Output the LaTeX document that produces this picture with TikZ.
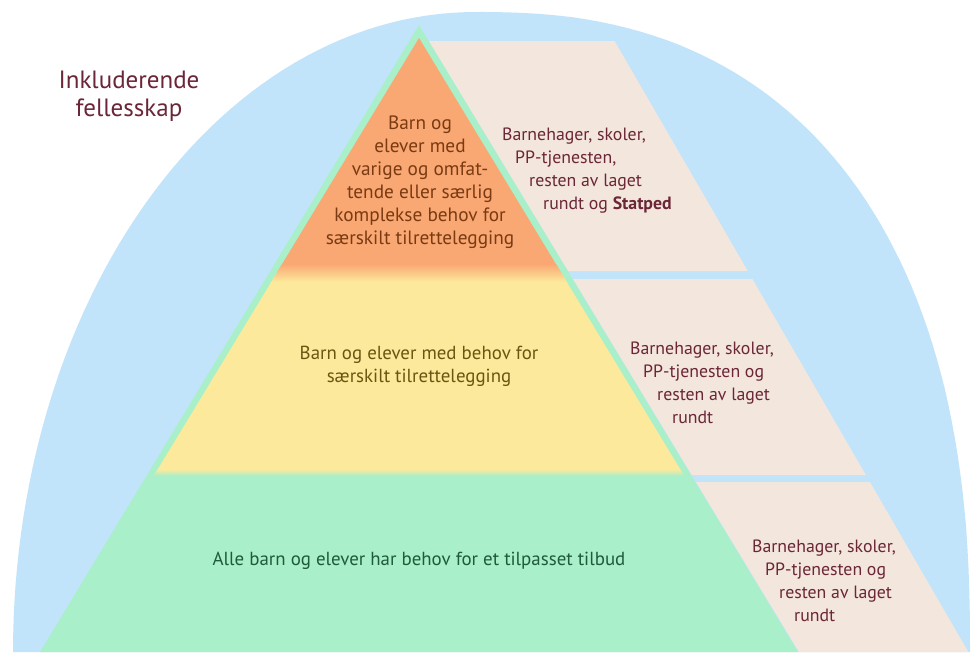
\documentclass[tikz,border=0pt]{standalone}
\usepackage{fontspec}
\setmainfont{PT Sans}
\usepackage{xcolor}
\definecolor{archblue}{HTML}{C1E4FA}
\definecolor{layergreen}{HTML}{A9EFC9}
\definecolor{layeryellow}{HTML}{FDE99B}
\definecolor{layerorange}{HTML}{F9A873}
\definecolor{svcbeige}{HTML}{F3E6DC}
\definecolor{maroon}{HTML}{6B2638}
\definecolor{brownorange}{HTML}{7A3A12}
\definecolor{olivetext}{HTML}{6A5612}
\definecolor{greentext}{HTML}{1F5A3C}

\begin{document}
\begin{tikzpicture}[x=1pt, y=-1pt,
  txt/.style={inner sep=0pt, align=center, font=\fontsize{18.9}{23}\selectfont},
  svc/.style={inner sep=0pt, align=left, anchor=west, text=maroon, font=\fontsize{17.8}{23}\selectfont}]
\fill[white] (0,0) rectangle (973,657);
\useasboundingbox (0,0) rectangle (973,657);
\fill[archblue] (13,652) -- plot[domain=180:90, samples=60] ({475+462*cos(\x)},{652-640*sin(\x)})
  -- plot[domain=89.5:0.5, samples=60] ({475+495*pow(cos(\x),0.8333)},{652-640*pow(sin(\x),0.8333)})
  -- (970,652) -- cycle;
\foreach \ya/\yb in {41/271, 279/475, 482/652} {
 \fill[svcbeige] ({419+0.606*(\ya-25)},\ya) -- ({614+0.579*(\ya-40)},\ya)
   -- ({614+0.579*(\yb-40)},\yb) -- ({419+0.606*(\yb-25)},\yb) -- cycle;
}
\fill[layergreen] (419,25) -- (40,652) -- (798,652) -- cycle;
\fill[layerorange] (419,38) -- (276.7,273) -- (561.3,273) -- cycle;
\fill[layeryellow] (276.7,273) -- (154.3,475) -- (683.7,475) -- (561.3,273) -- cycle;
\begin{scope}
 \clip (419,38) -- (154.3,475) -- (683.7,475) -- cycle;
 \shade[top color=layerorange, bottom color=layeryellow] (150,264) rectangle (690,282);
 \shade[top color=layeryellow, bottom color=layergreen] (150,469) rectangle (690,476);
\end{scope}
\fill[white] (0,653) rectangle (973,657);

\node[txt, text=maroon, font=\fontsize{25}{28}\selectfont] (incl) at (129,96) {Inkluderende\\fellesskap};
\node[txt, text=brownorange, font=\fontsize{19.3}{23}\selectfont] (topTxt) at (420,182) {Barn og\\elever med\\varige og omfat-\\tende eller særlig\\komplekse behov for\\særskilt tilrettelegging};
\node[txt, text=olivetext] (midTxt) at (419,366) {Barn og elever med behov for\\særskilt tilrettelegging};
\node[txt, text=greentext] (botTxt) at (419,561) {Alle barn og elever har behov for et tilpasset tilbud};
\node[svc] (svcTop) at (502,171) {Barnehager, skoler,\\\hspace*{13pt}PP-tjenesten,\\\hspace*{27pt}resten av laget\\\hspace*{41pt}rundt og \textbf{Statped}};
\node[svc] (svcMid) at (630,383) {Barnehager, skoler,\\\hspace*{13pt}PP-tjenesten og\\\hspace*{27pt}resten av laget\\\hspace*{42pt}rundt};
\node[svc] (svcBot) at (752,581) {Barnehager, skoler,\\\hspace*{13pt}PP-tjenesten og\\\hspace*{27pt}resten av laget\\\hspace*{42pt}rundt};
\end{tikzpicture}
\end{document}
